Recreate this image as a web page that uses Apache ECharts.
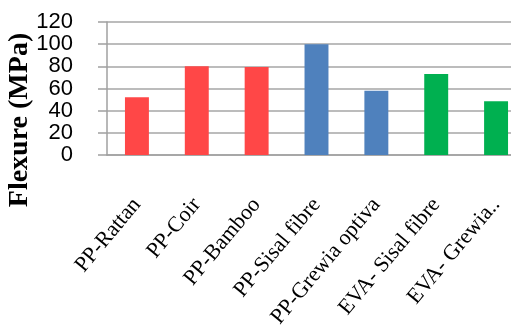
<!DOCTYPE html>
<html>
<head>
<meta charset="utf-8">
<script src="https://cdn.jsdelivr.net/npm/echarts@6/dist/echarts.min.js"></script>
<style>html,body{margin:0;padding:0;background:#fff}#c{width:511px;height:329px}</style>
</head>
<body>
<div id="c"></div>
<script>
const categories = ['PP-Rattan', 'PP-Coir', 'PP-Bamboo', 'PP-Sisal fibre', 'PP-Grewia optiva', 'EVA- Sisal fibre', 'EVA- Grewia..'];
const flexureValues = [52, 80, 79.5, 100, 58, 73, 48.5];
const barColors = ['#FF4747', '#FF4747', '#FF4747', '#4F81BD', '#4F81BD', '#00B050', '#00B050'];
const yTitle = 'Flexure (MPa)';

const chart = echarts.init(document.getElementById('c'), null, {renderer: 'canvas'});
chart.setOption({
  animation: false,
  backgroundColor: '#ffffff',
  grid: {left: 107, top: 22, bottom: 174, width: 419, containLabel: false, outerBoundsMode: 'none'},
  graphic: [{
    type: 'text',
    x: 19.5, y: 120,
    rotation: Math.PI / 2,
    style: {
      text: yTitle,
      fill: '#000',
      font: 'bold 28px "Liberation Serif", "Times New Roman", serif',
      align: 'center',
      verticalAlign: 'middle'
    }
  }],
  xAxis: {
    type: 'category',
    data: categories,
    axisLine: {show: true, lineStyle: {color: '#A0A0A0', width: 1.5}},
    axisTick: {show: false},
    axisLabel: {
      interval: 0,
      rotate: 50,
      margin: 46,
      color: '#000',
      fontFamily: '"Liberation Serif", "Times New Roman", serif',
      fontSize: 22
    }
  },
  yAxis: {
    type: 'value',
    min: 0, max: 120, interval: 20,
    axisLine: {show: true, lineStyle: {color: '#A0A0A0', width: 1.5}},
    axisTick: {show: true, length: 9, lineStyle: {color: '#A0A0A0', width: 1.5}},
    splitLine: {show: true, lineStyle: {color: '#A6A6A6', width: 1.5}},
    axisLabel: {
      margin: 34,
      color: '#000',
      fontFamily: '"Liberation Sans Narrow", "Liberation Sans", sans-serif',
      fontSize: 22
    }
  },
  series: [{
    type: 'bar',
    data: flexureValues.map((v, i) => ({value: v, itemStyle: {color: barColors[i]}})),
    barWidth: '40%'
  }]
});
</script>
</body>
</html>
